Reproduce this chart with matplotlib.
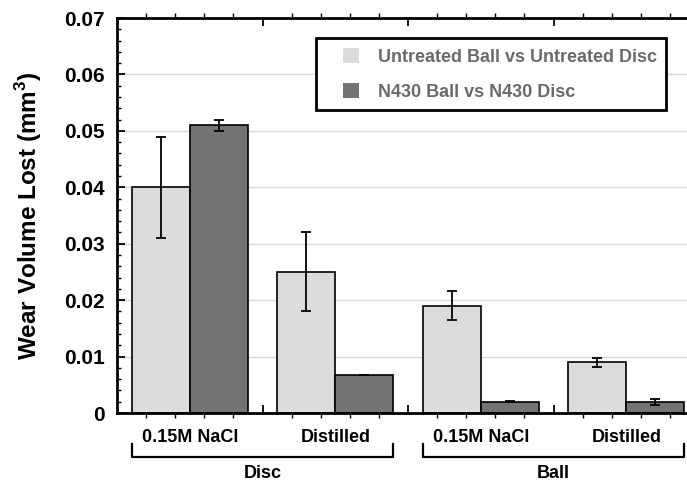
import matplotlib
matplotlib.use('Agg')
import matplotlib.pyplot as plt
import matplotlib.transforms as mtransforms
from matplotlib.container import BarContainer
from matplotlib.legend_handler import HandlerPatch, update_from_first_child
from matplotlib.patches import Rectangle
from matplotlib.ticker import FixedLocator, MultipleLocator, FuncFormatter
import numpy as np

plt.rcParams['font.family'] = ['Liberation Sans', 'DejaVu Sans']
plt.rcParams['font.weight'] = 'bold'
plt.rcParams['mathtext.fontset'] = 'custom'
plt.rcParams['mathtext.bf'] = 'Liberation Sans:bold'

# data
conditions = ['0.15M NaCl', 'Distilled', '0.15M NaCl', 'Distilled']
parts = ['Disc', 'Ball']
series_names = ['Untreated Ball vs Untreated Disc', 'N430 Ball vs N430 Disc']
untreated = [0.040, 0.025, 0.019, 0.009]
untreated_err = [0.009, 0.007, 0.0026, 0.0008]
n430 = [0.051, 0.0068, 0.002, 0.002]
n430_err = [0.001, 0.0, 0.0001, 0.0005]

light = '#dcdcdc'
dark = '#737373'

fig = plt.figure(figsize=(6.87, 4.83), dpi=100)
ax = fig.add_axes([0.1703, 0.1449, 0.8472, 0.8178])

x = np.arange(len(conditions))
w = 0.4
ax.bar(x - w / 2, untreated, w, color=light, edgecolor='black', linewidth=1.2,
       label=series_names[0], zorder=2)
ax.bar(x + w / 2, n430, w, color=dark, edgecolor='black', linewidth=1.2,
       label=series_names[1], zorder=2)
ax.errorbar(x - w / 2, untreated, yerr=untreated_err, fmt='none', ecolor='black',
            elinewidth=1.3, capsize=3.5, capthick=1.3, zorder=3)
ax.errorbar(x + w / 2, n430, yerr=n430_err, fmt='none', ecolor='black',
            elinewidth=1.3, capsize=3.5, capthick=1.3, zorder=3)

ax.set_xlim(-0.5, 3.5)
ax.set_ylim(0, 0.07)

# y axis
ax.yaxis.set_major_locator(MultipleLocator(0.01))
ax.yaxis.set_minor_locator(MultipleLocator(0.002))
ax.yaxis.set_major_formatter(FuncFormatter(lambda v, p: '0' if abs(v) < 1e-9 else '%.2f' % v))
ax.tick_params(axis='y', which='major', direction='in', length=6, width=1.3,
               labelsize=15, pad=9)
ax.tick_params(axis='y', which='minor', direction='in', length=3, width=1.0)
ax.yaxis.grid(True, color='#d8d8d8', linewidth=1.0, zorder=0)
ax.set_axisbelow(True)

# x axis: major ticks between groups (inside), minor ticks outside
ax.xaxis.set_major_locator(FixedLocator([0.5, 1.5, 2.5]))
ax.xaxis.set_minor_locator(FixedLocator(np.arange(-0.3, 3.5, 0.2)))
ax.tick_params(axis='x', which='major', direction='in', length=6, width=1.3,
               top=True, labelbottom=False)
ax.tick_params(axis='x', which='minor', direction='out', length=3.5, width=1.0, top=True)

for s in ['left', 'top', 'bottom']:
    ax.spines[s].set_linewidth(2)
ax.spines['right'].set_visible(False)

ax.set_ylabel('Wear Volume Lost (mm$^\\mathbf{3}$)', fontsize=17.5, fontweight='bold')
ax.yaxis.set_label_coords(-0.126, 0.5)

trans = mtransforms.blended_transform_factory(ax.transData, ax.transAxes)
for xi, lab in zip(x, conditions):
    ax.text(xi, -0.061, lab, transform=trans, ha='center', va='center',
            fontsize=13, fontweight='bold')

for k, part in enumerate(parts):
    x0 = 2 * k - 0.4
    x1 = 2 * k + 1.4
    ax.plot([x0, x0, x1, x1], [-0.078, -0.111, -0.111, -0.078], color='black',
            linewidth=1.6, transform=trans, clip_on=False)
    ax.text(2 * k + 0.5, -0.153, part, transform=trans, ha='center', va='center',
            fontsize=13, fontweight='bold')


# legend square sits at the right end of a wider handle box
def square_patch(legend, orig_handle, xdescent, ydescent, width, height, fontsize):
    return Rectangle((width - height - xdescent, -ydescent), height, height)


leg = ax.legend(loc='upper right', bbox_to_anchor=(0.944, 0.949), fancybox=False,
                framealpha=1, edgecolor='black', fontsize=13, handlelength=1.86,
                handleheight=0.95, borderpad=0.53, labelspacing=0.95, handletextpad=1.05,
                borderaxespad=0,
                handler_map={BarContainer: HandlerPatch(patch_func=square_patch,
                                                        update_func=update_from_first_child)})
leg.get_frame().set_linewidth(2)
for t in leg.get_texts():
    t.set_color('#6a6a6a')
    t.set_fontweight('bold')
for h in leg.legend_handles:
    h.set_linewidth(0)

fig.savefig('out.png', dpi=100)
